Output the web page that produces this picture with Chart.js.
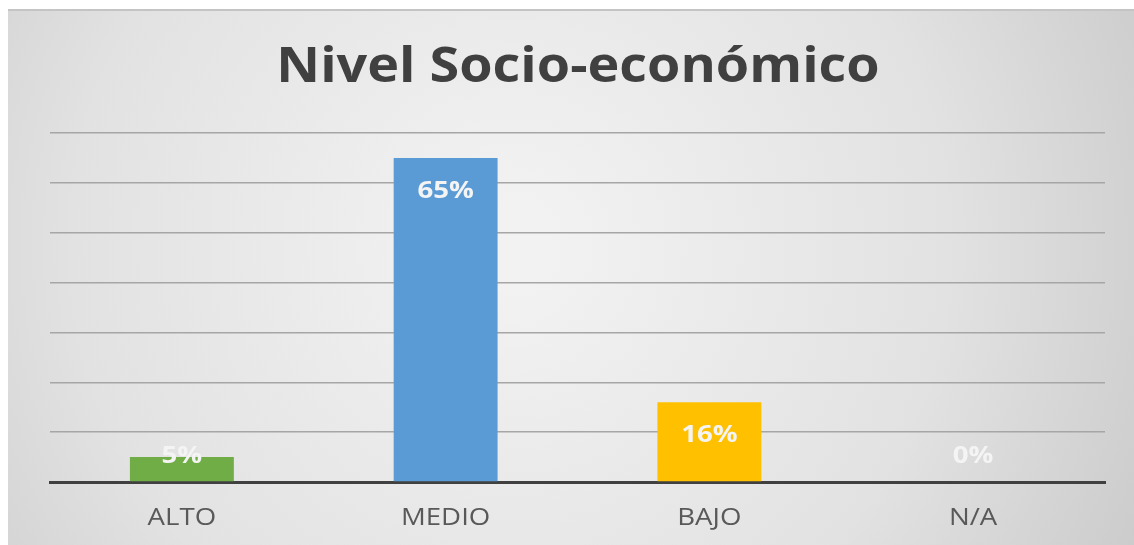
<!DOCTYPE html>
<html>
<head>
<meta charset="utf-8">
<script src="https://cdn.jsdelivr.net/npm/chart.js@4"></script>
<style>
  html, body { margin: 0; padding: 0; background: #fff; }
  #wrap { width: 1134px; height: 545px; }
</style>
</head>
<body>
<div id="wrap"><canvas id="myChart" width="1134" height="545"></canvas></div>
<script>
const titleText = "Nivel Socio-económico"
const categories = ["ALTO", "MEDIO", "BAJO", "N/A"]
const values = [5, 65, 16, 0]
const barColors = ["#70ad47", "#5b9bd5", "#ffc000", "#a5a5a5"]
const valueLabels = ["5%", "65%", "16%", "0%"]

// text in the picture is a bit stretched sideways, so draw it scaled
function wideText(ctx, text, x, y, sx) {
  ctx.save()
  ctx.translate(x, y)
  ctx.scale(sx, 1)
  ctx.fillText(text, 0, 0)
  ctx.restore()
}

// gray panel with light centre, like the office chart style
const panelBg = {
  id: "panelBg",
  beforeDraw(chart) {
    const ctx = chart.ctx
    const w = chart.width, h = chart.height
    ctx.save()
    ctx.fillStyle = "#ffffff"
    ctx.fillRect(0, 0, w, h)
    const g = ctx.createRadialGradient(w * 0.45, h * 0.45, 40, w * 0.45, h * 0.45, w * 0.62)
    g.addColorStop(0, "#f2f2f2")
    g.addColorStop(0.6, "#e2e2e2")
    g.addColorStop(1, "#cbcbcb")
    ctx.fillStyle = g
    ctx.fillRect(8, 9, w - 8, h - 9)
    ctx.fillStyle = "#c4c4c4"
    ctx.fillRect(8, 9, w - 8, 2)
    ctx.restore()
  }
}

// title, category names and value labels
const texts = {
  id: "texts",
  afterDatasetsDraw(chart) {
    const ctx = chart.ctx
    const meta = chart.getDatasetMeta(0)
    const base = chart.scales.y.getPixelForValue(0)
    ctx.save()
    ctx.textAlign = "center"
    ctx.textBaseline = "alphabetic"

    ctx.fillStyle = "#404040"
    ctx.font = "bold 49px 'Open Sans', sans-serif"
    wideText(ctx, titleText, 578, 82, 1.1)

    ctx.fillStyle = "#595959"
    ctx.font = "23px 'Open Sans', sans-serif"
    meta.data.forEach((bar, i) => {
      wideText(ctx, categories[i], bar.x, 525, 1.2)
    })

    ctx.fillStyle = "#f4f4f4"
    ctx.font = "bold 23px 'Open Sans', sans-serif"
    meta.data.forEach((bar, i) => {
      const y = Math.min(bar.y + 40, base - 19)
      wideText(ctx, valueLabels[i], bar.x, y, 1.2)
    })
    ctx.restore()
  }
}

const ctx = document.getElementById("myChart").getContext("2d")
const myChart = new Chart(ctx, {
  type: "bar",
  data: {
    labels: categories,
    datasets: [{
      data: values,
      backgroundColor: barColors,
      categoryPercentage: 1,
      barPercentage: 0.394
    }]
  },
  options: {
    responsive: false,
    animation: false,
    layout: { padding: { left: 50, right: 29, top: 133, bottom: 63 } },
    plugins: {
      legend: { display: false },
      tooltip: { enabled: false },
      title: { display: false }
    },
    scales: {
      x: {
        grid: { display: false, drawTicks: false },
        border: { display: true, color: "#404040", width: 3 },
        ticks: { display: false, padding: 0 }
      },
      y: {
        min: 0,
        max: 70,
        ticks: { display: false, stepSize: 10 },
        grid: { color: "#a6a6a6", lineWidth: 1.5, drawTicks: false },
        border: { display: false }
      }
    }
  },
  plugins: [panelBg, texts]
})
</script>
</body>
</html>
